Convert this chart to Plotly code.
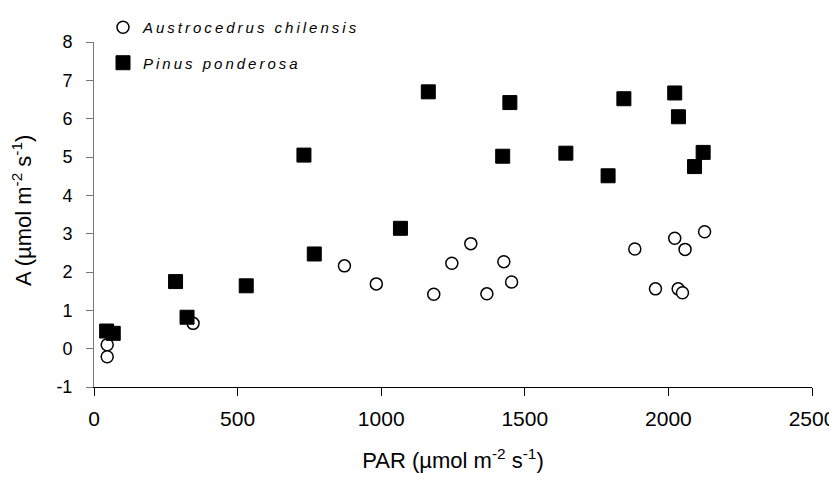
"""
Net assimilation (A) against PAR for two conifer species, drawn as a scatter chart.
"""
import plotly.graph_objects as go

# --- Data ---
PINUS_PAR = [44, 67, 284, 324, 530, 731, 767, 1067, 1164, 1423, 1448, 1643,
             1790, 1845, 2022, 2035, 2091, 2121]
PINUS_A = [0.46, 0.40, 1.75, 0.82, 1.64, 5.05, 2.47, 3.14, 6.70, 5.02, 6.42, 5.10,
           4.51, 6.52, 6.67, 6.05, 4.75, 5.12]

AUSTRO_PAR = [46, 46, 345, 872, 983, 1183, 1246, 1312, 1368, 1427, 1454, 1883,
              1955, 2022, 2034, 2049, 2058, 2126]
AUSTRO_A = [0.10, -0.21, 0.66, 2.16, 1.69, 1.42, 2.23, 2.74, 1.43, 2.27, 1.74, 2.60,
            1.56, 2.88, 1.56, 1.46, 2.59, 3.05]

X_TICKS = [0, 500, 1000, 1500, 2000, 2500]
Y_TICKS = [-1, 0, 1, 2, 3, 4, 5, 6, 7, 8]

FONT = "Liberation Sans, Arial, sans-serif"
OUTPUT_HTML_FILE = "out.html"

# the page body keeps its default 8px margin, so the figure is offset by 8px
FIG_W, FIG_H = 829, 466


def spaced(text):
    """Mimic the wide letter spacing of the original legend text."""
    return "\u2009".join(text)


def main():
    fig = go.Figure()
    fig.add_trace(go.Scatter(
        x=AUSTRO_PAR, y=AUSTRO_A,
        mode='markers',
        name=spaced("Austrocedrus chilensis"),
        legendgroup='a',
        marker=dict(symbol='circle', size=12, color='white',
                    line=dict(color='black', width=1.5)),
    ))
    fig.add_trace(go.Scatter(
        x=PINUS_PAR, y=PINUS_A,
        mode='markers',
        name=spaced("Pinus ponderosa"),
        legendgroup='p',
        marker=dict(symbol='square', size=14, color='black',
                    line=dict(color='black', width=1)),
    ))

    # y title as an annotation (axis title standoff misbehaves with fixed margins)
    fig.add_annotation(
        text="A (\u00b5mol m<sup>-2</sup> s<sup>-1</sup>)",
        textangle=-90, showarrow=False,
        xref='paper', yref='paper', x=-0.0995, y=0.512,
        xanchor='center', yanchor='middle',
        font=dict(size=22),
    )

    fig.update_layout(
        width=FIG_W, height=FIG_H,
        margin=dict(l=85.5, r=25, t=33.5, b=87.3, autoexpand=False),
        paper_bgcolor='white', plot_bgcolor='white',
        font=dict(family=FONT, color='black'),
        showlegend=True,
        legend=dict(
            xref='container', yref='container',
            x=0.1146, y=0.9936, xanchor='left', yanchor='top',
            font=dict(size=15, style='italic'),
            bgcolor='rgba(0,0,0,0)',
            tracegroupgap=13,
        ),
        xaxis=dict(
            range=[0, 2500], tickvals=X_TICKS,
            showgrid=False, zeroline=False,
            showline=True, linecolor='black', linewidth=1,
            ticks='outside', ticklen=8, tickcolor='black',
            tickfont=dict(size=21),
            ticklabelstandoff=5,
            title=dict(text="PAR (\u00b5mol m<sup>-2</sup> s<sup>-1</sup>)",
                       font=dict(size=22), standoff=23),
        ),
        yaxis=dict(
            range=[-1, 8], tickvals=Y_TICKS,
            ticktext=[str(v) for v in Y_TICKS],
            showgrid=False, zeroline=False,
            showline=True, linecolor='#777777', linewidth=1,
            ticks='outside', ticklen=7, tickcolor='#777777',
            tickfont=dict(size=18),
            ticklabelstandoff=10,
        ),
    )

    fig.write_html(OUTPUT_HTML_FILE)


if __name__ == "__main__":
    main()
